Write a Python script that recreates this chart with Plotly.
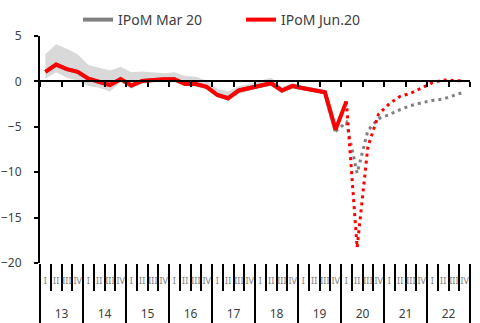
import plotly.graph_objects as go

# quarters 2013Q1 .. 2022Q4
years = ["13", "14", "15", "16", "17", "18", "19", "20", "21", "22"]
quarters = ["I", "II", "III", "IV"]
cats = [y + "-" + q for y in years for q in quarters]
qlabels = [q for y in years for q in quarters]

# IPoM Jun.20 (red)
red_hist = [1.05, 1.85, 1.35, 1.05, 0.3, 0.0, -0.4, 0.25, -0.45, 0.05, 0.2, 0.25,
            0.25, -0.3, -0.3, -0.6, -1.5, -1.85, -1.0, -0.75, -0.4, -0.2, -1.0, -0.5,
            -0.75, -1.0, -1.2, -5.3, -2.2]
red_fcst = [-2.2, -18.3, -7.2, -3.6, -2.45, -1.65, -1.3, -0.75, -0.15, 0.15, 0.1, 0.05]

# IPoM Mar 20 (gray)
gray_hist = [1.05, 1.85, 1.35, 1.05, 0.3, 0.0, -0.4, 0.25, -0.45, 0.05, 0.2, 0.25,
             0.25, -0.3, -0.3, -0.6, -1.5, -1.85, -1.0, -0.75, -0.4, -0.2, -1.0, -0.5,
             -0.75, -1.0, -1.2, -5.5]
gray_fcst = [-5.5, -4.5, -10.1, -5.4, -4.1, -3.65, -3.1, -2.65, -2.35, -2.1, -1.95, -1.55, -1.15]

# range band
band_hi = [3.0, 4.1, 3.6, 3.0, 1.8, 1.5, 1.2, 1.6, 1.0, 1.1, 1.0, 0.9,
           1.0, 0.6, 0.5, 0.1, -0.8, -1.1, -0.5, -0.3, 0.1, 0.4, -0.6, -0.2,
           -0.5, -0.7, -0.9]
band_lo = [0.3, 1.0, 0.4, 0.1, -0.5, -0.7, -1.1, -0.1, -0.8, -0.3, -0.1, -0.1,
           -0.1, -0.5, -0.6, -0.9, -1.8, -2.1, -1.4, -1.0, -0.7, -0.5, -1.3, -0.8,
           -1.0, -1.1, -1.3]

RED = "#ff0000"
GRAY = "#808080"
TXT = "#404040"
FONT = "Noto Sans"

fig = go.Figure()

nb = len(band_lo)
fig.add_trace(go.Scatter(x=cats[:nb], y=band_lo, mode="lines", line=dict(width=0),
                         showlegend=False, hoverinfo="skip"))
fig.add_trace(go.Scatter(x=cats[:nb], y=band_hi, mode="lines", line=dict(width=0),
                         fill="tonexty", fillcolor="#d9d9d9", showlegend=False, hoverinfo="skip"))

ng = len(gray_hist)
fig.add_trace(go.Scatter(x=cats[:ng], y=gray_hist, mode="lines", name="IPoM Mar 20",
                         line=dict(color=GRAY, width=4)))
fig.add_trace(go.Scatter(x=cats[ng - 1:], y=gray_fcst, mode="lines", showlegend=False,
                         line=dict(color=GRAY, width=3, dash="3px,4px")))

nr = len(red_hist)
fig.add_trace(go.Scatter(x=cats[:nr], y=red_hist, mode="lines", name="IPoM Jun.20",
                         line=dict(color=RED, width=4)))
fig.add_trace(go.Scatter(x=cats[nr - 1:], y=red_fcst, mode="lines", showlegend=False,
                         line=dict(color=RED, width=3, dash="3px,4px")))

# invisible traces so the label axes know their categories
fig.add_trace(go.Scatter(x=cats, y=[None] * len(cats), xaxis="x2", mode="lines",
                         showlegend=False, hoverinfo="skip"))
fig.add_trace(go.Scatter(x=years, y=[None] * len(years), xaxis="x3", mode="lines",
                         showlegend=False, hoverinfo="skip"))

fig.update_layout(
    width=480, height=323,
    margin=dict(l=40, r=10, t=33, b=60, pad=0),
    paper_bgcolor="white", plot_bgcolor="white",
    font=dict(family=FONT, size=12, color=TXT),
    showlegend=True,
    legend=dict(orientation="h", traceorder="normal",
                xref="container", x=78 / 480, xanchor="left",
                yref="container", y=1 - 20 / 323, yanchor="middle",
                entrywidth=118, font=dict(size=14, color=TXT),
                bgcolor="rgba(0,0,0,0)"),
    xaxis=dict(type="category", categoryorder="array", categoryarray=cats,
               range=[-0.5, len(cats) - 0.5], anchor="free", position=0.8,
               showline=True, linecolor="black", linewidth=2,
               ticks="outside", tickson="boundaries", ticklen=5, tickwidth=2,
               tickcolor="black", showticklabels=False, showgrid=False, zeroline=False,
               automargin=False),
    xaxis2=dict(type="category", categoryorder="array", categoryarray=cats,
                overlaying="x", anchor="y", range=[-0.5, len(cats) - 0.5],
                tickmode="array", tickvals=cats, ticktext=qlabels, tickangle=0,
                ticks="outside", tickson="boundaries", ticklen=27, tickwidth=2,
                tickcolor="black", ticklabelstandoff=11,
                tickfont=dict(size=9, color=GRAY), showline=False, showgrid=False,
                zeroline=False, automargin=False),
    xaxis3=dict(type="category", categoryorder="array", categoryarray=years,
                overlaying="x", anchor="y", range=[-0.5, len(years) - 0.5],
                tickmode="array", tickvals=years, ticktext=years, tickangle=0,
                ticks="outside", tickson="boundaries", ticklen=60, tickwidth=2,
                tickcolor="black", ticklabelstandoff=42,
                tickfont=dict(size=12, color=TXT), showline=False, showgrid=False,
                zeroline=False, automargin=False),
    yaxis=dict(range=[-20, 5], dtick=5, tickmode="linear", tick0=0,
               showline=True, linecolor="black", linewidth=2,
               ticks="outside", ticklen=4, tickwidth=2, tickcolor="black",
               ticklabelstandoff=10, showgrid=False, zeroline=False,
               tickfont=dict(size=12, color=TXT), automargin=False),
)

# the page's default body margin would shift the 480x323 figure out of the window
fig.write_html("out.html", config={"displayModeBar": False},
               post_script="document.body.style.margin = '0';")
